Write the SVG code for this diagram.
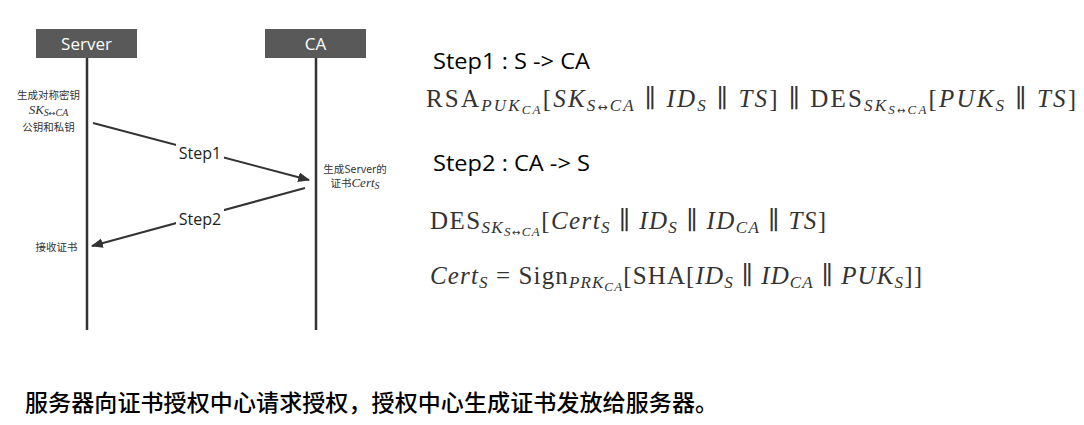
<svg xmlns="http://www.w3.org/2000/svg" width="1084" height="425" viewBox="0 0 1084 425">
<style>
.hdr{fill:#595959}
.hdrt{fill:#fff;font-family:"Open Sans","Noto Sans",sans-serif;font-size:17px;text-anchor:middle}
.life{stroke:#333;stroke-width:2.5}
.msg{stroke:#333;stroke-width:2;fill:none}
.lbl{font-family:"Open Sans","Noto Sans",sans-serif;font-size:16px;fill:#222;text-anchor:middle}
.note{font-family:"Noto Sans CJK SC",sans-serif;font-size:10.5px;fill:#333;text-anchor:middle}
.mi{font-family:"Liberation Serif","DejaVu Serif",serif;font-style:italic}
.step{font-family:"Open Sans","Noto Sans",sans-serif;font-size:21px;fill:#000;font-weight:500}
.m{font-family:"Liberation Serif","DejaVu Serif",serif;font-size:25px;fill:#333}
.i{font-style:italic}
.s{font-size:17px}
.ss{font-size:13px}
.ar{font-family:"DejaVu Sans",sans-serif;font-style:normal}
.cap{font-family:"Noto Sans CJK SC",sans-serif;font-size:23px;fill:#000;font-weight:500}
</style>
<defs>
<marker id="ah" viewBox="0 0 10 10" refX="9" refY="5" markerWidth="6" markerHeight="6" markerUnits="strokeWidth" orient="auto">
<path d="M0,1 L10,5 L0,9 z" fill="#333"/>
</marker>
</defs>
<g id="server">
<rect class="hdr" x="36" y="29" width="101" height="29"/>
<text class="hdrt" x="86.5" y="50">Server</text>
<line class="life" x1="87" y1="58" x2="87" y2="330"/>
</g>
<g id="ca">
<rect class="hdr" x="265" y="29" width="101" height="29"/>
<text class="hdrt" x="315.5" y="50">CA</text>
<line class="life" x1="316" y1="58" x2="316" y2="330"/>
</g>
<g id="connectors">
<line class="msg" x1="93" y1="123" x2="309" y2="180" marker-end="url(#ah)"/>
<rect x="176" y="142" width="48" height="22" fill="#fff"/>
<text class="lbl" x="200" y="159">Step1</text>
<line class="msg" x1="305" y1="188" x2="92" y2="246" marker-end="url(#ah)"/>
<rect x="176" y="208" width="48" height="22" fill="#fff"/>
<text class="lbl" x="200" y="225">Step2</text>
</g>
<g id="server-notes">
<text class="note" x="48.5" y="99">生成对称密钥</text>
<text class="mi" x="48.5" y="114" font-size="13" text-anchor="middle" fill="#333">SK<tspan font-size="10" dy="2">S<tspan class="ar" font-size="8">↔</tspan>CA</tspan></text>
<text class="note" x="48.5" y="131">公钥和私钥</text>
<text class="note" x="56.5" y="251">接收证书</text>
</g>
<g id="ca-notes">
<text class="note" x="355" y="173">生成Server的</text>
<text class="note" x="355" y="187">证书<tspan class="mi" font-size="13">Cert<tspan font-size="10" dy="2">S</tspan></tspan></text>
</g>
<g id="formulas">
<text class="step" x="433" y="69" textLength="157" lengthAdjust="spacingAndGlyphs">Step1 : S -&gt; CA</text>
<text class="m" x="426" y="107" textLength="650" lengthAdjust="spacing">RSA<tspan class="i s" dy="4">PUK</tspan><tspan class="i ss" dy="3">CA</tspan><tspan dy="-7">[</tspan><tspan class="i">SK</tspan><tspan class="i s" dy="4">S<tspan class="ar" font-size="12">↔</tspan>CA</tspan><tspan dy="-4"> ∥ </tspan><tspan class="i">ID</tspan><tspan class="i s" dy="4">S</tspan><tspan dy="-4"> ∥ </tspan><tspan class="i">TS</tspan>] ∥ DES<tspan class="i s" dy="4">SK</tspan><tspan class="i ss" dy="3">S<tspan class="ar" font-size="10">↔</tspan>CA</tspan><tspan dy="-7">[</tspan><tspan class="i">PUK</tspan><tspan class="i s" dy="4">S</tspan><tspan dy="-4"> ∥ </tspan><tspan class="i">TS</tspan>]</text>
<text class="step" x="433" y="171" textLength="157" lengthAdjust="spacingAndGlyphs">Step2 : CA -&gt; S</text>
<text class="m" x="430" y="229" textLength="396" lengthAdjust="spacing">DES<tspan class="i s" dy="4">SK</tspan><tspan class="i ss" dy="3">S<tspan class="ar" font-size="10">↔</tspan>CA</tspan><tspan dy="-7">[</tspan><tspan class="i">Cert</tspan><tspan class="i s" dy="4">S</tspan><tspan dy="-4"> ∥ </tspan><tspan class="i">ID</tspan><tspan class="i s" dy="4">S</tspan><tspan dy="-4"> ∥ </tspan><tspan class="i">ID</tspan><tspan class="i s" dy="4">CA</tspan><tspan dy="-4"> ∥ </tspan><tspan class="i">TS</tspan>]</text>
<text class="m" x="430" y="284" textLength="492" lengthAdjust="spacing"><tspan class="i">Cert</tspan><tspan class="i s" dy="4">S</tspan><tspan dy="-4"> = Sign</tspan><tspan class="i s" dy="4">PRK</tspan><tspan class="i ss" dy="3">CA</tspan><tspan dy="-7">[SHA[</tspan><tspan class="i">ID</tspan><tspan class="i s" dy="4">S</tspan><tspan dy="-4"> ∥ </tspan><tspan class="i">ID</tspan><tspan class="i s" dy="4">CA</tspan><tspan dy="-4"> ∥ </tspan><tspan class="i">PUK</tspan><tspan class="i s" dy="4">S</tspan><tspan dy="-4">]]</tspan></text>
</g>
<g id="caption">
<text class="cap" x="25" y="411" textLength="693" lengthAdjust="spacing">服务器向证书授权中心请求授权，授权中心生成证书发放给服务器。</text>
</g>
</svg>
